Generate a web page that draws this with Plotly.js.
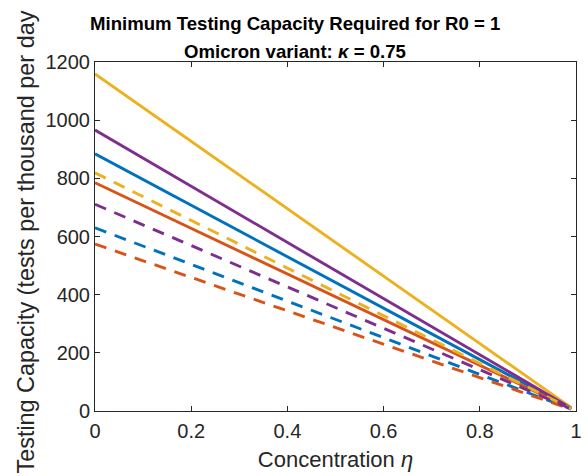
<!DOCTYPE html>
<html>
<head>
<meta charset="utf-8">
<script src="https://cdn.plot.ly/plotly-3.0.1.min.js"></script>
<style>
  html, body { margin: 0; padding: 0; background: #fff; }
  #chart { width: 588px; height: 476px; }
</style>
</head>
<body>
<div id="chart"></div>
<script>
// Concentration eta: start and end of each line
const eta = [0, 0.99];

// Required testing capacity (tests per thousand per day)
const blueSolid    = [884, 8.8];
const orangeSolid  = [785, 7.9];
const yellowSolid  = [1159, 11.6];
const purpleSolid  = [966, 9.7];
const blueDashed   = [630, 6.3];
const orangeDashed = [574, 5.7];
const yellowDashed = [819, 8.2];
const purpleDashed = [711, 7.1];

const xTicks = [0, 0.2, 0.4, 0.6, 0.8, 1];
const xTickText = ['0', '0.2', '0.4', '0.6', '0.8', '1'];
const yTicks = [0, 200, 400, 600, 800, 1000, 1200];
const yTickText = ['0', '200', '400', '600', '800', '1000', '1200'];

const titleLine1 = 'Minimum Testing Capacity Required for R0 = 1';
const titleLine2 = 'Omicron variant: <i>κ</i> = 0.75';
const yTitle = 'Testing Capacity (tests per thousand per day';

const BLUE = '#0072BD', ORANGE = '#D95319', YELLOW = '#EDB120', PURPLE = '#7E2F8E';
const LW = 2.9;
const DASH = '12px,9px';

function line(y, color, dash) {
  return {
    x: eta, y: y, type: 'scatter', mode: 'lines',
    line: { color: color, width: LW, dash: dash },
    hoverinfo: 'skip', showlegend: false
  };
}

const data = [
  line(blueSolid, BLUE, 'solid'),
  line(orangeSolid, ORANGE, 'solid'),
  line(yellowSolid, YELLOW, 'solid'),
  line(purpleSolid, PURPLE, 'solid'),
  line(blueDashed, BLUE, DASH),
  line(orangeDashed, ORANGE, DASH),
  line(yellowDashed, YELLOW, DASH),
  line(purpleDashed, PURPLE, DASH)
];

const FONT = 'Arial, "Liberation Sans", Helvetica, sans-serif';
const AX = '#262626';
const TITLE_FONT = { family: FONT, size: 18.6, color: '#000000' };

const layout = {
  width: 588, height: 476,
  margin: { l: 95, r: 12, t: 62, b: 65 },
  paper_bgcolor: '#ffffff', plot_bgcolor: '#ffffff',
  font: { family: FONT, color: AX },
  title: {
    text: '<b>' + titleLine1 + '</b>',
    font: TITLE_FONT,
    x: 0.502, xref: 'container', xanchor: 'center',
    y: 1 - 17 / 476, yref: 'container', yanchor: 'top'
  },
  annotations: [
    {
      text: '<b>' + titleLine2 + '</b>', font: TITLE_FONT, showarrow: false,
      xref: 'paper', x: 0, xshift: 200, xanchor: 'center',
      yref: 'paper', y: 1, yanchor: 'bottom', yshift: -2
    },
    {
      text: yTitle, font: { family: FONT, size: 23.4, color: AX }, showarrow: false,
      textangle: -90,
      xref: 'paper', x: 0, xshift: -69, xanchor: 'center',
      yref: 'paper', y: 0.4828, yanchor: 'middle'
    }
  ],
  xaxis: {
    range: [0, 1], tickvals: xTicks, ticktext: xTickText,
    ticks: 'inside', ticklen: 5, tickwidth: 1, tickcolor: AX,
    mirror: 'allticks', showline: true, linecolor: AX, linewidth: 1,
    showgrid: false, zeroline: false,
    tickfont: { size: 20, color: AX }, ticklabelstandoff: 2,
    title: { text: 'Concentration <i>η</i>', font: { size: 22, color: AX }, standoff: 10 }
  },
  yaxis: {
    range: [0, 1200], tickvals: yTicks, ticktext: yTickText,
    ticks: 'inside', ticklen: 5, tickwidth: 1, tickcolor: AX,
    mirror: 'allticks', showline: true, linecolor: AX, linewidth: 1,
    showgrid: false, zeroline: false,
    tickfont: { size: 20, color: AX }
  }
};

Plotly.newPlot('chart', data, layout, { staticPlot: true, displayModeBar: false });
</script>
</body>
</html>
